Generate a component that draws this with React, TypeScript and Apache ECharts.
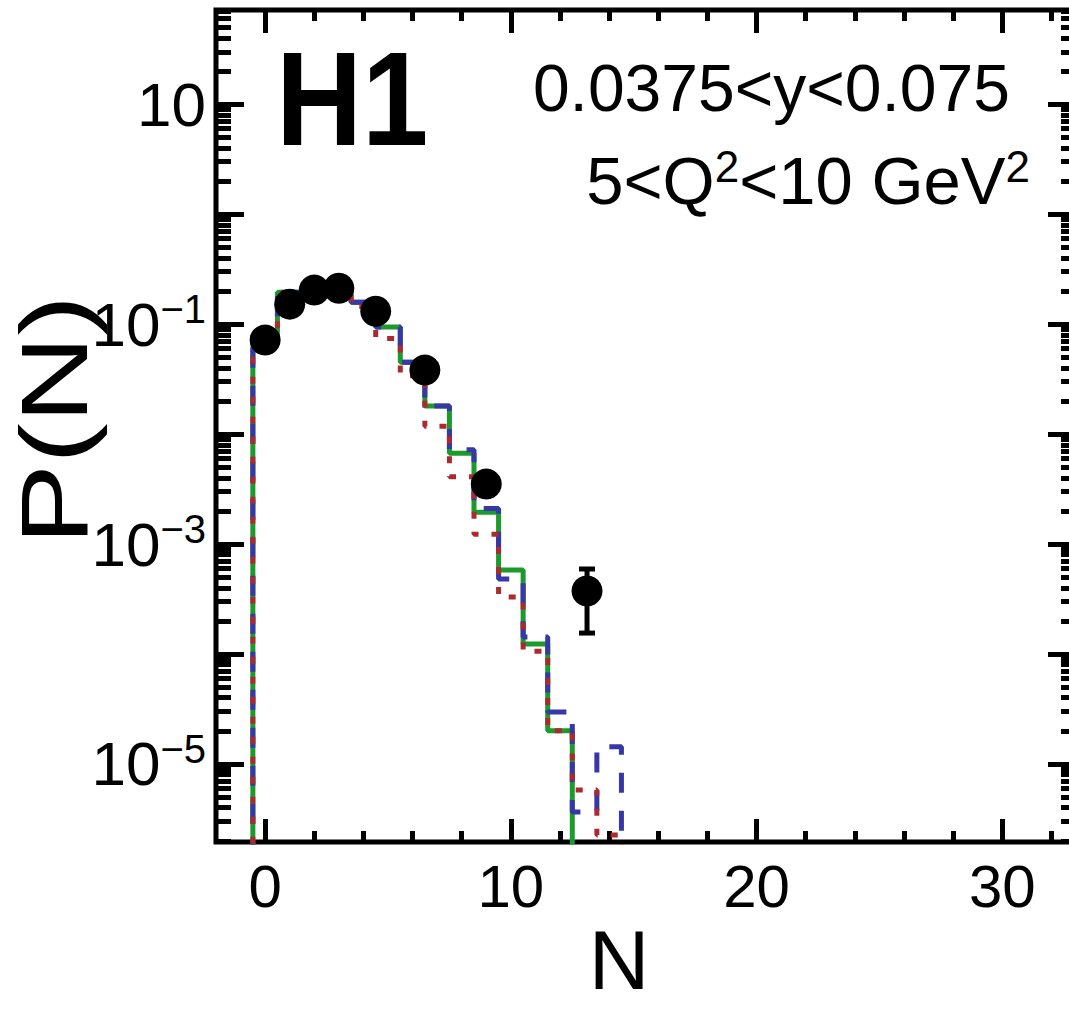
import React, { useEffect, useRef } from 'react';
import * as echarts from 'echarts';

// ---- data ----
// model histograms, one value per bin N = 0,1,2,...
const greenModel = [0.08, 0.195, 0.215, 0.205, 0.158, 0.094, 0.045, 0.018, 0.0067, 0.00195, 0.00058, 0.000123, 0.00002];
const blueModel = [0.08, 0.195, 0.215, 0.205, 0.158, 0.094, 0.045, 0.018, 0.0072, 0.0021, 0.00048, 0.000143, 0.0000297, 0.00000366, 0.0000143];
const redModel = [0.08, 0.195, 0.212, 0.2, 0.145, 0.074, 0.034, 0.0118, 0.0041, 0.00123, 0.00033, 0.000106, 0.00002, 0.0000058, 0.00000226];

// H1 data points
const dataN = [0, 1, 2, 3, 4.5, 6.5, 9, 13.1];
const dataP = [0.0716, 0.152, 0.204, 0.212, 0.131, 0.0382, 0.00351, 0.000374];
const dataLow = [0.067, 0.146, 0.197, 0.205, 0.126, 0.0366, 0.0032, 0.000155];
const dataHigh = [0.076, 0.158, 0.211, 0.219, 0.136, 0.0398, 0.0038, 0.000593];

// axes
const xMin = -2;
const xMax = 33;
const yMin = 1.95e-6;
const yMax = 72;
const xLabelTicks = [0, 10, 20, 30];
const xMinorTicks = [2, 4, 6, 8, 12, 14, 16, 18, 22, 24, 26, 28, 32];
const yLabelValues = [10, 0.1, 0.001, 0.00001];
const yMajorTicks = [1e-5, 1e-4, 1e-3, 1e-2, 1e-1, 1, 10];
const yMinorMultipliers = [2, 3, 4, 5, 6, 7, 8, 9];
const yDecades = [-6, -5, -4, -3, -2, -1, 0, 1];

const FONT = '"Liberation Sans", Arial, Helvetica, sans-serif';
const FLOOR = 1e-9;

function histSteps(vals: number[]) {
  const pts: number[][] = [[-0.5, FLOOR]];
  vals.forEach((v, i) => pts.push([i - 0.5, v]));
  pts.push([vals.length - 0.5, vals[vals.length - 1]]);
  pts.push([vals.length - 0.5, FLOOR]);
  return pts;
}

const yMinorTicks: number[] = [];
yDecades.forEach((k) => {
  yMinorMultipliers.forEach((m) => {
    const v = m * Math.pow(10, k);
    if (v > yMin && v < yMax) yMinorTicks.push(v);
  });
});

export default function App() {
  const ref = useRef<HTMLDivElement>(null);
  useEffect(() => {
    if (!ref.current) return;
    const chart = echarts.init(ref.current, undefined, { renderer: 'svg' });

    const tickStyle = (w: number) => ({ color: '#000', width: w });
    const xAxisBase = {
      type: 'value' as const,
      min: xMin,
      max: xMax,
      gridIndex: 0,
      axisLine: { show: false, onZero: false },
      splitLine: { show: false },
    };
    const yAxisBase = {
      type: 'log' as const,
      logBase: 10,
      min: yMin,
      max: yMax,
      gridIndex: 0,
      axisLine: { show: false, onZero: false },
      splitLine: { show: false },
      minorSplitLine: { show: false },
    };

    const option: any = {
      animation: false,
      backgroundColor: '#fff',
      grid: {
        left: 216,
        right: -7,
        top: 10,
        bottom: 177,
        show: true,
        borderColor: '#000',
        borderWidth: 5,
        backgroundColor: 'transparent',
        containLabel: false,
        outerBoundsMode: 'none',
      },
      xAxis: [
        {
          ...xAxisBase,
          position: 'bottom',
          axisTick: { show: true, inside: true, length: 23, customValues: xLabelTicks, lineStyle: tickStyle(5) },
          axisLabel: {
            show: true,
            customValues: xLabelTicks,
            margin: 14,
            fontSize: 60,
            fontFamily: FONT,
            color: '#000',
          },
        },
        {
          ...xAxisBase,
          position: 'bottom',
          axisTick: { show: true, inside: true, length: 11, customValues: xMinorTicks, lineStyle: tickStyle(5) },
          axisLabel: { show: false },
        },
        {
          ...xAxisBase,
          position: 'top',
          axisTick: { show: true, inside: true, length: 23, customValues: xLabelTicks, lineStyle: tickStyle(5) },
          axisLabel: { show: false },
        },
        {
          ...xAxisBase,
          position: 'top',
          axisTick: { show: true, inside: true, length: 11, customValues: xMinorTicks, lineStyle: tickStyle(5) },
          axisLabel: { show: false },
        },
      ],
      yAxis: [
        {
          ...yAxisBase,
          position: 'left',
          axisTick: { show: true, inside: true, length: 28, customValues: yMajorTicks, lineStyle: tickStyle(5) },
          axisLabel: {
            show: true,
            customValues: yLabelValues,
            margin: 10,
            formatter: (v: number) => {
              const e = Math.round(Math.log10(v));
              return e === 1 ? '{b|10}' : `{b|10}{s|\u2212${-e}}`;
            },
            rich: {
              b: { fontSize: 62, fontFamily: FONT, color: '#000', lineHeight: 70 },
              s: { fontSize: 40, fontFamily: FONT, color: '#000', verticalAlign: 'top', lineHeight: 40 },
            },
          },
        },
        {
          ...yAxisBase,
          position: 'left',
          axisTick: { show: true, inside: true, length: 15, customValues: yMinorTicks, lineStyle: tickStyle(5) },
          axisLabel: { show: false },
        },
        {
          ...yAxisBase,
          position: 'right',
          axisTick: { show: true, inside: true, length: 28, customValues: yMajorTicks, lineStyle: tickStyle(5) },
          axisLabel: { show: false },
        },
        {
          ...yAxisBase,
          position: 'right',
          axisTick: { show: true, inside: true, length: 15, customValues: yMinorTicks, lineStyle: tickStyle(5) },
          axisLabel: { show: false },
        },
      ],
      series: [
        {
          type: 'line',
          name: 'green',
          data: histSteps(greenModel),
          step: 'end',
          showSymbol: false,
          clip: true,
          z: 2,
          lineStyle: { color: '#1c9a2c', width: 5, type: 'solid' },
        },
        {
          type: 'line',
          name: 'blue',
          data: histSteps(blueModel),
          step: 'end',
          showSymbol: false,
          clip: true,
          z: 3,
          lineStyle: { color: '#3737a6', width: 5, type: [20, 18] },
        },
        {
          type: 'line',
          name: 'red',
          data: histSteps(redModel),
          step: 'end',
          showSymbol: false,
          clip: true,
          z: 4,
          lineStyle: { color: '#aa2a30', width: 5, type: [7, 13] },
        },
        {
          type: 'custom',
          name: 'errors',
          z: 5,
          data: dataN.map((n, i) => [n, dataLow[i], dataHigh[i]]),
          encode: { x: 0, y: [1, 2] },
          renderItem: (params: any, api: any) => {
            const x = api.value(0);
            const top = api.coord([x, api.value(2)]);
            const bot = api.coord([x, api.value(1)]);
            const hw = 8;
            const st = { stroke: '#000', lineWidth: 5 };
            return {
              type: 'group',
              children: [
                { type: 'line', shape: { x1: top[0], y1: top[1], x2: bot[0], y2: bot[1] }, style: st },
                { type: 'line', shape: { x1: top[0] - hw, y1: top[1], x2: top[0] + hw, y2: top[1] }, style: st },
                { type: 'line', shape: { x1: bot[0] - hw, y1: bot[1], x2: bot[0] + hw, y2: bot[1] }, style: st },
              ],
            };
          },
        },
        {
          type: 'scatter',
          name: 'H1',
          z: 6,
          symbol: 'circle',
          symbolSize: 31,
          itemStyle: { color: '#000', opacity: 1 },
          data: dataN.map((n, i) => [n, dataP[i]]),
        },
      ],
      graphic: [
        {
          type: 'text',
          x: 276,
          y: 99,
          scaleX: 0.89,
          style: {
            text: 'H1',
            font: `bold 134px ${FONT}`,
            fill: '#000',
            textAlign: 'left',
            textVerticalAlign: 'middle',
          },
        },
        {
          type: 'text',
          x: 1010,
          y: 88,
          style: {
            text: '0.0375<y<0.075',
            font: `66px ${FONT}`,
            fill: '#000',
            textAlign: 'right',
            textVerticalAlign: 'middle',
          },
        },
        {
          type: 'text',
          x: 1030,
          y: 180,
          style: {
            text: '{a|5<Q}{s|2}{a|<10 GeV}{s|2}',
            fill: '#000',
            textAlign: 'right',
            textVerticalAlign: 'middle',
            rich: {
              a: { font: `67px ${FONT}`, fill: '#000', lineHeight: 72 },
              s: { font: `44px ${FONT}`, fill: '#000', verticalAlign: 'top', lineHeight: 40 },
            },
          },
        },
        {
          type: 'text',
          x: 54,
          y: 420,
          rotation: Math.PI / 2,
          scaleX: 1.28,
          style: {
            text: 'P(N)',
            font: `95px ${FONT}`,
            fill: '#000',
            textAlign: 'center',
            textVerticalAlign: 'middle',
          },
        },
        {
          type: 'text',
          x: 619,
          y: 960,
          style: {
            text: 'N',
            font: `84px ${FONT}`,
            fill: '#000',
            textAlign: 'center',
            textVerticalAlign: 'middle',
          },
        },
      ],
    };

    chart.setOption(option);
    return () => chart.dispose();
  }, []);

  return (
    <div
      ref={ref}
      style={{ position: 'fixed', left: 0, top: 0, width: 1069, height: 1019, overflow: 'hidden', background: '#fff' }}
    />
  );
}
